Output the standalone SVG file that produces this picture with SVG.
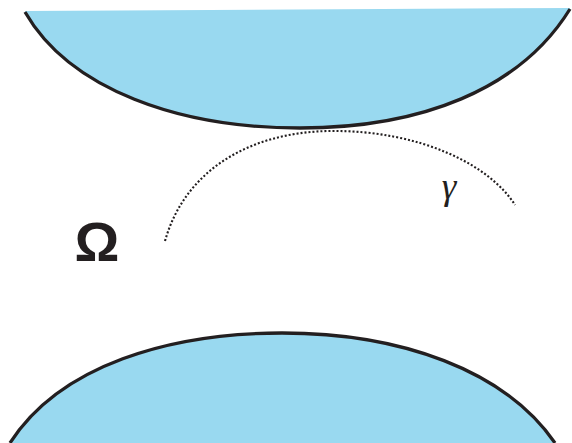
<svg xmlns="http://www.w3.org/2000/svg" width="572" height="443" viewBox="0 0 572 443">
<style>
.fill{fill:#99d9f0;stroke:none}
.arc{fill:none;stroke:#231f20;stroke-width:3.3;stroke-linecap:butt}
.dot{fill:none;stroke:#231f20;stroke-width:2.1;stroke-dasharray:2 2}
</style>
<rect width="572" height="443" fill="#ffffff"/>
<g id="top-region">
<path class="fill" d="M25,12 C70,90 180,128 300,128 C420,128 520,90 570,9 L570,8 L25,11 Z"/>
<path class="arc" d="M25,12 C70,90 180,128 300,128 C420,128 520,90 570,9"/>
</g>
<g id="bottom-region">
<path class="fill" d="M10,443 C60,365 170,333 282,333 C400,333 505,370 555,443 Z"/>
<path class="arc" d="M10,443 C60,365 170,333 282,333 C400,333 505,370 555,443"/>
</g>
<g id="connectors">
<path id="gamma-curve" class="dot" d="M165,241 C185,170 250,132 330,131 C420,130 490,165 515,205"/>
</g>
<g id="label-gamma">
<text x="449" y="199" font-family="Liberation Serif, serif" font-style="italic" font-size="37" text-anchor="middle" fill="#231f20">γ</text>
</g>
<g id="label-omega">
<text x="97" y="261" font-family="Liberation Sans, Arial, sans-serif" font-weight="bold" font-size="56" text-anchor="middle" fill="#231f20">Ω</text>
</g>
</svg>
